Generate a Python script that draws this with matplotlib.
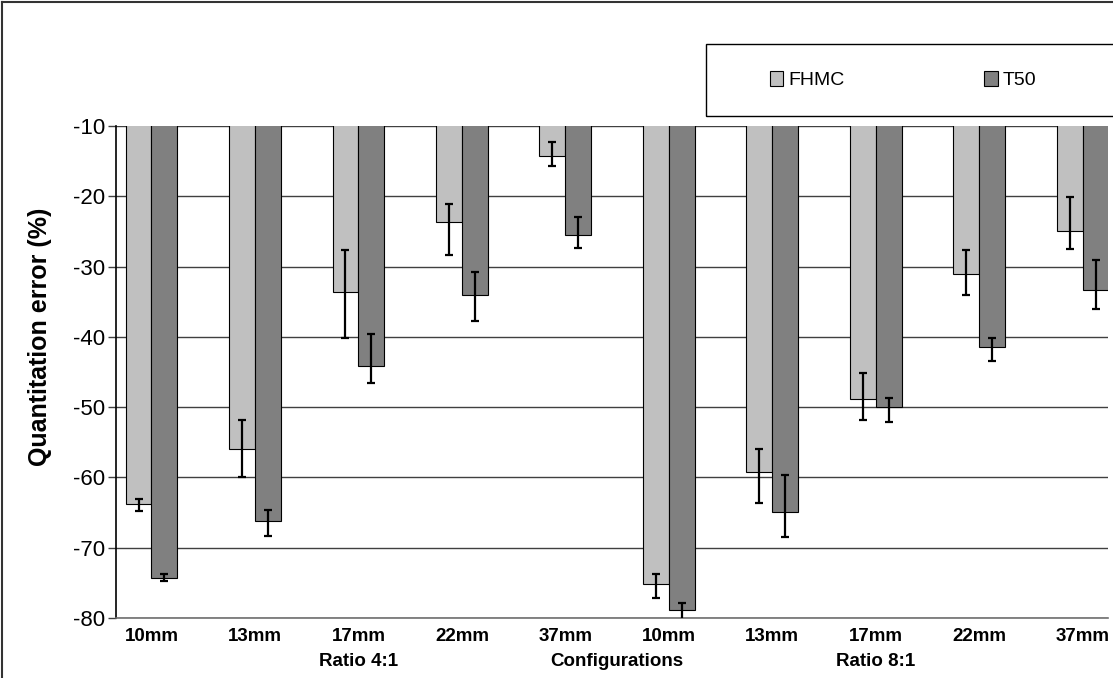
import matplotlib
matplotlib.use("Agg")
import matplotlib.pyplot as plt
from matplotlib.patches import Rectangle, Patch
from matplotlib.lines import Line2D
import numpy as np

plt.rcParams['font.family'] = ['Liberation Sans', 'DejaVu Sans']
plt.rcParams['axes.unicode_minus'] = False

sizes = ["10mm", "13mm", "17mm", "22mm", "37mm", "10mm", "13mm", "17mm", "22mm", "37mm"]
groups = ["Ratio 4:1", "Ratio 8:1"]
series = ["FHMC", "T50"]

fhmc = [-63.8, -55.9, -33.6, -23.6, -14.3, -75.2, -59.2, -48.8, -31.0, -25.0]
fhmc_err_lo = [1.0, 4.1, 6.6, 4.7, 1.4, 1.9, 4.5, 3.1, 3.0, 2.5]
fhmc_err_hi = [0.7, 4.0, 5.9, 2.5, 2.0, 1.5, 3.2, 3.7, 3.4, 4.9]

t50 = [-74.3, -66.2, -44.1, -34.1, -25.5, -78.8, -64.9, -50.0, -41.5, -33.4]
t50_err_lo = [0.4, 2.2, 2.5, 3.7, 1.9, 1.6, 3.6, 2.1, 1.9, 2.6]
t50_err_hi = [0.6, 1.5, 4.5, 3.3, 2.6, 1.0, 5.3, 1.3, 1.4, 4.4]

W, H = 1113, 678
fig = plt.figure(figsize=(W / 100, H / 100), dpi=100)
ax = fig.add_axes([116 / W, 1 - 618 / H, (1108 - 116) / W, (618 - 126) / H])

x = np.arange(len(sizes))
bw = 0.25
c1, c2 = "#C0C0C0", "#808080"

ax.bar(x - bw / 2, fhmc, bw, color=c1, edgecolor="black", linewidth=0.8, zorder=2, label=series[0])
ax.bar(x + bw / 2, t50, bw, color=c2, edgecolor="black", linewidth=0.8, zorder=2, label=series[1])
ekw = dict(fmt="none", ecolor="black", elinewidth=1.6, capsize=3.2, capthick=1.6, zorder=3)
ax.errorbar(x - bw / 2, fhmc, yerr=[fhmc_err_lo, fhmc_err_hi], **ekw)
ax.errorbar(x + bw / 2, t50, yerr=[t50_err_lo, t50_err_hi], **ekw)

ax.set_ylim(-80, -10)
ax.set_xlim(-0.343, 9.245)
ax.set_yticks(np.arange(-80, -9, 10))
ax.set_yticklabels([str(v) for v in range(-80, -9, 10)], fontsize=16)
ax.yaxis.grid(True, color="#404040", linewidth=1.0, zorder=0)
ax.set_axisbelow(True)

ax.set_xticks(x)
ax.set_xticklabels(sizes, fontsize=13.5, fontweight="bold")
ax.tick_params(axis="x", length=0, pad=7)
ax.tick_params(axis="y", length=6, width=1, color="#404040", pad=2)

for s in ["top", "right"]:
    ax.spines[s].set_visible(False)
ax.spines["left"].set_color("black")
ax.spines["left"].set_linewidth(1.2)
ax.spines["bottom"].set_color("#707070")
ax.spines["bottom"].set_linewidth(1.2)

ax.set_ylabel("Quantitation error (%)", fontsize=18, fontweight="bold")
ax.yaxis.set_label_coords(-64 / (1108 - 116), (618 - 337) / (618 - 126))

# second-row category labels
ytxt = 1 - 662 / H
fig.text(ax.transData.transform((2, 0))[0] / W, ytxt, groups[0], ha="center", va="center",
         fontsize=13.5, fontweight="bold")
fig.text(ax.transData.transform((4.5, 0))[0] / W, ytxt, "Configurations", ha="center", va="center",
         fontsize=13.5, fontweight="bold")
fig.text(ax.transData.transform((7, 0))[0] / W, ytxt, groups[1], ha="center", va="center",
         fontsize=13.5, fontweight="bold")

# legend box
fig.add_artist(Rectangle((706 / W, 1 - 116 / H), (1120 - 706) / W, (116 - 44) / H,
                         transform=fig.transFigure, fill=False, edgecolor="black", linewidth=1.0))
handles = [Patch(facecolor=c1, edgecolor="black", linewidth=0.8),
           Patch(facecolor=c2, edgecolor="black", linewidth=0.8)]
fig.legend(handles, series, loc="center", bbox_to_anchor=(903 / W, 1 - 80 / H), ncol=2,
           frameon=False, fontsize=14, handlelength=0.7, handleheight=0.85,
           handletextpad=0.25, columnspacing=7.2)

# outer chart border (left and top visible)
fig.add_artist(Line2D([2 / W, 2 / W], [0, 1 - 2 / H], transform=fig.transFigure, color="#333333", linewidth=1.5))
fig.add_artist(Line2D([2 / W, 1], [1 - 2 / H, 1 - 2 / H], transform=fig.transFigure, color="#333333", linewidth=1.5))

fig.savefig("out.png", dpi=100)
